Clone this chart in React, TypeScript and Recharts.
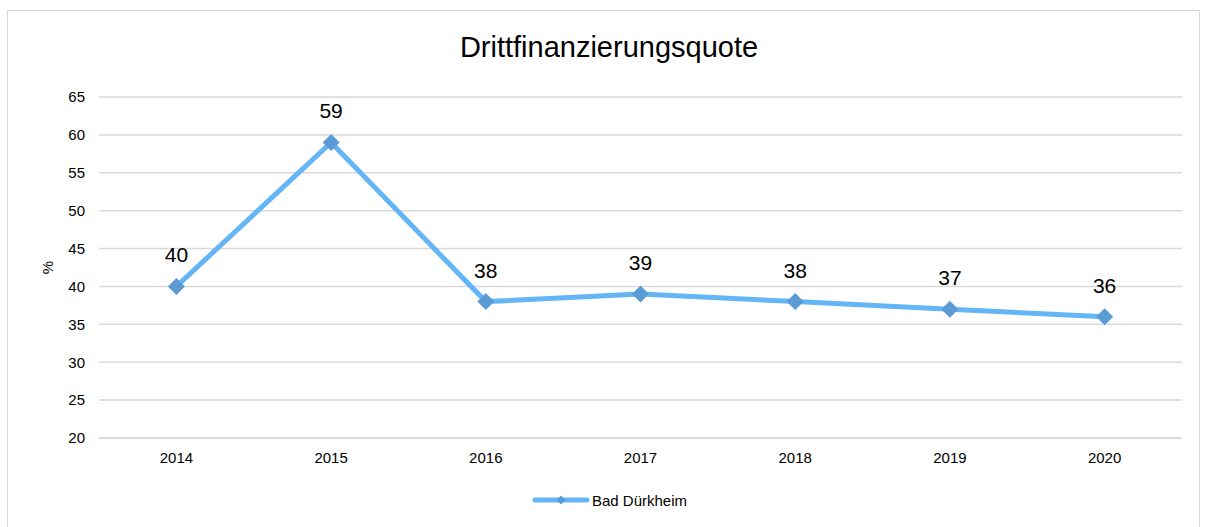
import React from "react";
import { LineChart, Line, XAxis, YAxis, CartesianGrid, LabelList } from "recharts";

const years = ["2014", "2015", "2016", "2017", "2018", "2019", "2020"];
const quote = [40, 59, 38, 39, 38, 37, 36];
const yTicks = [20, 25, 30, 35, 40, 45, 50, 55, 60, 65];
const seriesName = "Bad Dürkheim";
const title = "Drittfinanzierungsquote";

const data = years.map((y, i) => ({ year: y, value: quote[i] }));

const FONT = "'Liberation Sans', Arial, sans-serif";
const LINE_COLOR = "#64B5F6";
const MARKER_COLOR = "#5B9BD5";

const Diamond = (props: any) => {
  const { cx, cy } = props;
  if (cx == null || cy == null) return null;
  const r = 8.5;
  return (
    <path
      d={`M${cx},${cy - r} L${cx + r},${cy} L${cx},${cy + r} L${cx - r},${cy} Z`}
      fill={MARKER_COLOR}
    />
  );
};

export default function App() {
  return (
    <div style={{ position: "absolute", left: 0, top: 0, width: 1206, height: 527, background: "#fff", overflow: "hidden" }}>
      <div style={{ position: "absolute", left: 7, top: 10, width: 1193, height: 530, border: "1.5px solid #d9d9d9", boxSizing: "border-box" }} />
      <svg style={{ position: "absolute", left: 0, top: 0 }} width={1206} height={527}>
        <text x={609} y={57} textAnchor="middle" fontFamily={FONT} fontSize={29} fill="#000">{title}</text>
        <line x1={535} y1={500} x2={587} y2={500} stroke={LINE_COLOR} strokeWidth={5} strokeLinecap="round" />
        <path d="M561,495.5 L565.5,500 L561,504.5 L556.5,500 Z" fill={MARKER_COLOR} />
        <text x={592} y={505.5} fontFamily={FONT} fontSize={15} fill="#000">{seriesName}</text>
      </svg>
      <div style={{ position: "absolute", left: 0, top: 0 }}>
        <LineChart width={1206} height={527} data={data} margin={{ top: 97, right: 24, bottom: 59, left: 49 }}>
          <CartesianGrid horizontal vertical={false} stroke="#d9d9d9" strokeWidth={1.5} />
          <XAxis
            dataKey="year"
            axisLine={{ stroke: "#d9d9d9", strokeWidth: 1.5 }}
            tickLine={false}
            tickMargin={8}
            height={30}
            padding={{ left: 77.4, right: 77.4 }}
            tick={{ fill: "#000", fontSize: 15, fontFamily: FONT }}
          />
          <YAxis
            domain={[20, 65]}
            ticks={yTicks}
            interval={0}
            width={50}
            axisLine={false}
            tickLine={false}
            tickMargin={8}
            tick={{ fill: "#000", fontSize: 15, fontFamily: FONT }}
            label={{ value: "%", angle: -90, position: "insideLeft", offset: -1, style: { fill: "#000", fontSize: 15, fontFamily: FONT, textAnchor: "middle" } }}
          />
          <Line
            type="linear"
            dataKey="value"
            name={seriesName}
            stroke={LINE_COLOR}
            strokeWidth={5}
            dot={<Diamond />}
            activeDot={false}
            isAnimationActive={false}
          >
            <LabelList dataKey="value" position="top" offset={24} style={{ fill: "#000", fontSize: 21, fontFamily: FONT }} />
          </Line>
        </LineChart>
      </div>
    </div>
  );
}
